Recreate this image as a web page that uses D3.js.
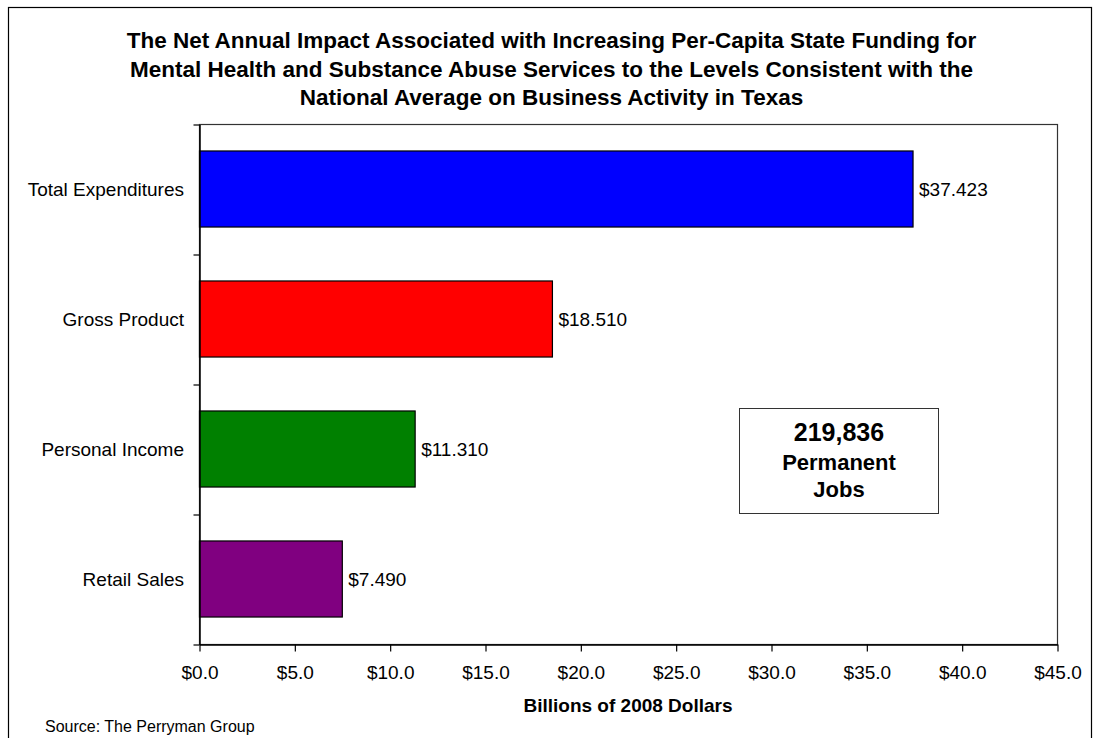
<!DOCTYPE html>
<html>
<head>
<meta charset="utf-8">
<script src="https://cdn.jsdelivr.net/npm/d3@7"></script>
<style>
  html, body { margin: 0; padding: 0; background: #ffffff; }
  svg { display: block; font-family: Arial, "Liberation Sans", sans-serif; }
</style>
</head>
<body>
<svg id="chart" width="1096" height="738"></svg>
<script>
// Chart data
const categories = ["Total Expenditures", "Gross Product", "Personal Income", "Retail Sales"];
const values = [37.423, 18.510, 11.310, 7.490];
const barColors = ["#0000ff", "#ff0000", "#008000", "#800080"];
const xTicks = [0, 5, 10, 15, 20, 25, 30, 35, 40, 45];
const titleLines = [
  "The Net Annual Impact Associated with Increasing Per-Capita State Funding for",
  "Mental Health and Substance Abuse Services to the Levels Consistent with the",
  "National Average on Business Activity in Texas"
];
const xAxisTitle = "Billions of 2008 Dollars";
const sourceNote = "Source: The Perryman Group";
const jobsBox = ["219,836", "Permanent", "Jobs"];

const svg = d3.select("#chart");

// Outer chart frame
svg.append("rect")
  .attr("x", 8.5).attr("y", 7.5)
  .attr("width", 1083).attr("height", 760)
  .attr("fill", "#ffffff")
  .attr("stroke", "#000000").attr("stroke-width", 1.2);

// Plot area
const plot = { left: 199, right: 1057, top: 124, bottom: 644 };

const x = d3.scaleLinear().domain([0, 45]).range([plot.left, plot.right]);
const y = d3.scaleBand()
  .domain(categories)
  .range([plot.top, plot.bottom])
  .paddingInner(0.415)
  .paddingOuter(0.2075);

// Plot area border
svg.append("rect")
  .attr("x", plot.left + 0.5).attr("y", plot.top + 0.5)
  .attr("width", plot.right - plot.left).attr("height", plot.bottom - plot.top)
  .attr("fill", "#ffffff")
  .attr("stroke", "#333333").attr("stroke-width", 1.2);

// Title
svg.append("text")
  .attr("x", 551.5).attr("y", 48)
  .attr("text-anchor", "middle")
  .attr("font-size", 22.5).attr("font-weight", "bold").attr("fill", "#000")
  .selectAll("tspan")
  .data(titleLines)
  .join("tspan")
  .attr("x", 551.5)
  .attr("dy", (d, i) => i === 0 ? 0 : 28.5)
  .text(d => d);

// Bars
svg.append("g")
  .selectAll("rect")
  .data(categories)
  .join("rect")
  .attr("x", x(0) + 0.5)
  .attr("y", d => y(d))
  .attr("width", (d, i) => x(values[i]) - x(0))
  .attr("height", y.bandwidth())
  .attr("fill", (d, i) => barColors[i])
  .attr("stroke", "#000000").attr("stroke-width", 1.2);

// Value labels
const fmtVal = d3.format("$.3f");
svg.append("g")
  .selectAll("text")
  .data(categories)
  .join("text")
  .attr("x", (d, i) => x(values[i]) + 6.5)
  .attr("y", d => y(d) + y.bandwidth() / 2 + 7)
  .attr("font-size", 19).attr("fill", "#000")
  .text((d, i) => fmtVal(values[i]));

// X axis
const xAxis = d3.axisBottom(x)
  .tickValues(xTicks)
  .tickFormat(d3.format("$.1f"))
  .tickSize(7)
  .tickSizeOuter(0)
  .tickPadding(14.5);

const gx = svg.append("g")
  .attr("transform", `translate(0.5,${plot.bottom + 0.5})`)
  .call(xAxis);
gx.select(".domain").attr("stroke", "#000").attr("stroke-width", 1.5);
gx.selectAll(".tick line").attr("stroke", "#000").attr("stroke-width", 1.2);
gx.selectAll(".tick text")
  .attr("font-size", 19).attr("font-family", "Arial, 'Liberation Sans', sans-serif")
  .attr("fill", "#000");

// Y axis: ticks at category boundaries
const yBound = d3.scaleLinear().domain([0, categories.length]).range([plot.top, plot.bottom]);
const yAxis = d3.axisLeft(yBound)
  .tickValues(d3.range(categories.length + 1))
  .tickFormat("")
  .tickSize(6)
  .tickSizeOuter(0);
const gy = svg.append("g")
  .attr("transform", `translate(${plot.left + 0.5},0.5)`)
  .call(yAxis);
gy.select(".domain").attr("stroke", "#000").attr("stroke-width", 1.5);
gy.selectAll(".tick line").attr("stroke", "#000").attr("stroke-width", 1.2);

// Category labels
svg.append("g")
  .selectAll("text")
  .data(categories)
  .join("text")
  .attr("x", 184)
  .attr("y", d => y(d) + y.bandwidth() / 2 + 7)
  .attr("text-anchor", "end")
  .attr("font-size", 19).attr("fill", "#000")
  .text(d => d);

// X axis title
svg.append("text")
  .attr("x", (plot.left + plot.right) / 2).attr("y", 712)
  .attr("text-anchor", "middle")
  .attr("font-size", 19).attr("font-weight", "bold").attr("fill", "#000")
  .text(xAxisTitle);

// Source note
svg.append("text")
  .attr("x", 45).attr("y", 731.5)
  .attr("font-size", 16).attr("fill", "#000")
  .text(sourceNote);

// Jobs callout box
svg.append("rect")
  .attr("x", 739.5).attr("y", 408.5)
  .attr("width", 199).attr("height", 105)
  .attr("fill", "#ffffff")
  .attr("stroke", "#333333").attr("stroke-width", 1);

const boxText = svg.append("g").attr("font-weight", "bold").attr("fill", "#000")
  .attr("text-anchor", "middle");
boxText.append("text").attr("x", 839).attr("y", 441).attr("font-size", 25).text(jobsBox[0]);
boxText.append("text").attr("x", 839).attr("y", 470).attr("font-size", 22).text(jobsBox[1]);
boxText.append("text").attr("x", 839).attr("y", 497).attr("font-size", 22).text(jobsBox[2]);
</script>
</body>
</html>
